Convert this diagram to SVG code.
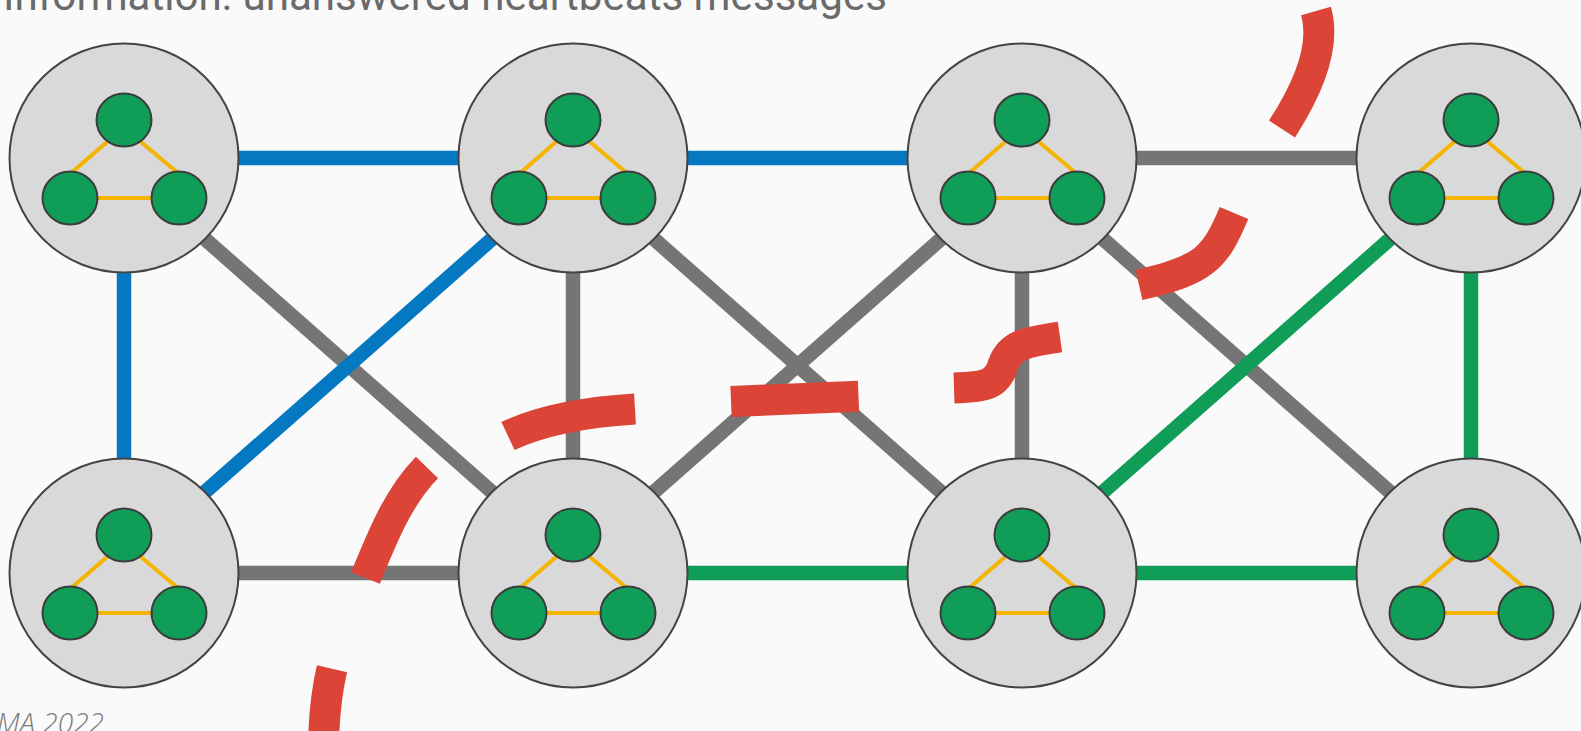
<svg xmlns="http://www.w3.org/2000/svg" xmlns:xlink="http://www.w3.org/1999/xlink" width="1581" height="731" viewBox="0 0 1581 731">
  <style>
    .bg { fill: #FAFAFA; }
    .title { font-family: Roboto, "Liberation Sans", sans-serif; font-size: 43px; fill: #6A6A6A; }
    .credit { font-family: "Open Sans", "Liberation Sans", sans-serif; font-style: italic; font-weight: 300; font-size: 28px; fill: #7A7A7A; }
    .edge { fill: none; stroke-width: 14.5; stroke-linecap: butt; }
    .blue { stroke: #0479C1; }
    .grey { stroke: #757575; }
    .green { stroke: #0F9D58; }
    .shell { fill: #D9D9D9; stroke: #434343; stroke-width: 2; }
    .member { fill: #0F9D58; stroke: #3C3C3C; stroke-width: 2; }
    .link { stroke: #F4B400; stroke-width: 4; fill: none; }
    .cut { fill: none; stroke: #DB4437; stroke-width: 31; stroke-linecap: butt; }
  </style>
  <defs>
    <!-- one cluster: outer shell with three members joined in a triangle -->
    <g id="cluster">
      <circle class="shell" cx="0" cy="0" r="114.5"/>
      <line class="link" x1="-17" y1="-16" x2="-54" y2="16"/>
      <line class="link" x1="17" y1="-16" x2="55" y2="16"/>
      <line class="link" x1="-30" y1="40" x2="30" y2="40"/>
      <ellipse class="member" cx="0" cy="-38" rx="27.5" ry="26.5"/>
      <ellipse class="member" cx="-54" cy="40" rx="27.5" ry="26.5"/>
      <ellipse class="member" cx="55" cy="40" rx="27.5" ry="26.5"/>
    </g>
  </defs>

  <rect class="bg" x="0" y="0" width="1581" height="731"/>

  <text class="title" x="3" y="10" textLength="884" lengthAdjust="spacingAndGlyphs">Information: unanswered heartbeats messages</text>
  <text class="credit" x="104" y="733" text-anchor="end">MA 2022</text>

  <g id="connectors">
    <!-- row links -->
    <line class="edge blue" x1="124" y1="158" x2="573" y2="158"/>
    <line class="edge blue" x1="573" y1="158" x2="1022" y2="158"/>
    <line class="edge grey" x1="1022" y1="158" x2="1471" y2="158"/>
    <line class="edge grey" x1="124" y1="573" x2="573" y2="573"/>
    <line class="edge green" x1="573" y1="573" x2="1022" y2="573"/>
    <line class="edge green" x1="1022" y1="573" x2="1471" y2="573"/>
    <!-- column links -->
    <line class="edge blue" x1="124" y1="158" x2="124" y2="573"/>
    <line class="edge grey" x1="573" y1="158" x2="573" y2="573"/>
    <line class="edge grey" x1="1022" y1="158" x2="1022" y2="573"/>
    <line class="edge green" x1="1471" y1="158" x2="1471" y2="573"/>
    <!-- diagonals, falling -->
    <line class="edge grey" x1="190" y1="225.8" x2="507" y2="505.2"/>
    <line class="edge grey" x1="639" y1="225.8" x2="956" y2="505.2"/>
    <line class="edge grey" x1="1088" y1="225.8" x2="1405" y2="505.2"/>
    <!-- diagonals, rising -->
    <line class="edge blue" x1="190" y1="505.2" x2="507" y2="225.8"/>
    <line class="edge grey" x1="639" y1="505.2" x2="956" y2="225.8"/>
    <line class="edge green" x1="1088" y1="505.2" x2="1405" y2="225.8"/>
  </g>

  <g id="node-1" transform="translate(124,158)"><use href="#cluster" xlink:href="#cluster"/></g>
  <g id="node-2" transform="translate(573,158)"><use href="#cluster" xlink:href="#cluster"/></g>
  <g id="node-3" transform="translate(1022,158)"><use href="#cluster" xlink:href="#cluster"/></g>
  <g id="node-4" transform="translate(1471,158)"><use href="#cluster" xlink:href="#cluster"/></g>
  <g id="node-5" transform="translate(124,573)"><use href="#cluster" xlink:href="#cluster"/></g>
  <g id="node-6" transform="translate(573,573)"><use href="#cluster" xlink:href="#cluster"/></g>
  <g id="node-7" transform="translate(1022,573)"><use href="#cluster" xlink:href="#cluster"/></g>
  <g id="node-8" transform="translate(1471,573)"><use href="#cluster" xlink:href="#cluster"/></g>

  <g id="breaks">
    <path class="cut" d="M1316,11 C1327,49 1304,95 1282,129"/>
    <path class="cut" d="M1234,213 C1215,258 1205,270 1139,285"/>
    <path class="cut" d="M954,388 C985,387 997,385 1003,365 C1010,345 1025,342 1060,337"/>
    <path class="cut" d="M731,401.5 L858.5,396.2"/>
    <path class="cut" d="M508,436 C540,421 585,412 635,409"/>
    <path class="cut" d="M427,467.5 C400,495 385,530 365.5,578"/>
    <path class="cut" d="M332,668.7 C327,690 324,710 323.5,745"/>
  </g>
</svg>
